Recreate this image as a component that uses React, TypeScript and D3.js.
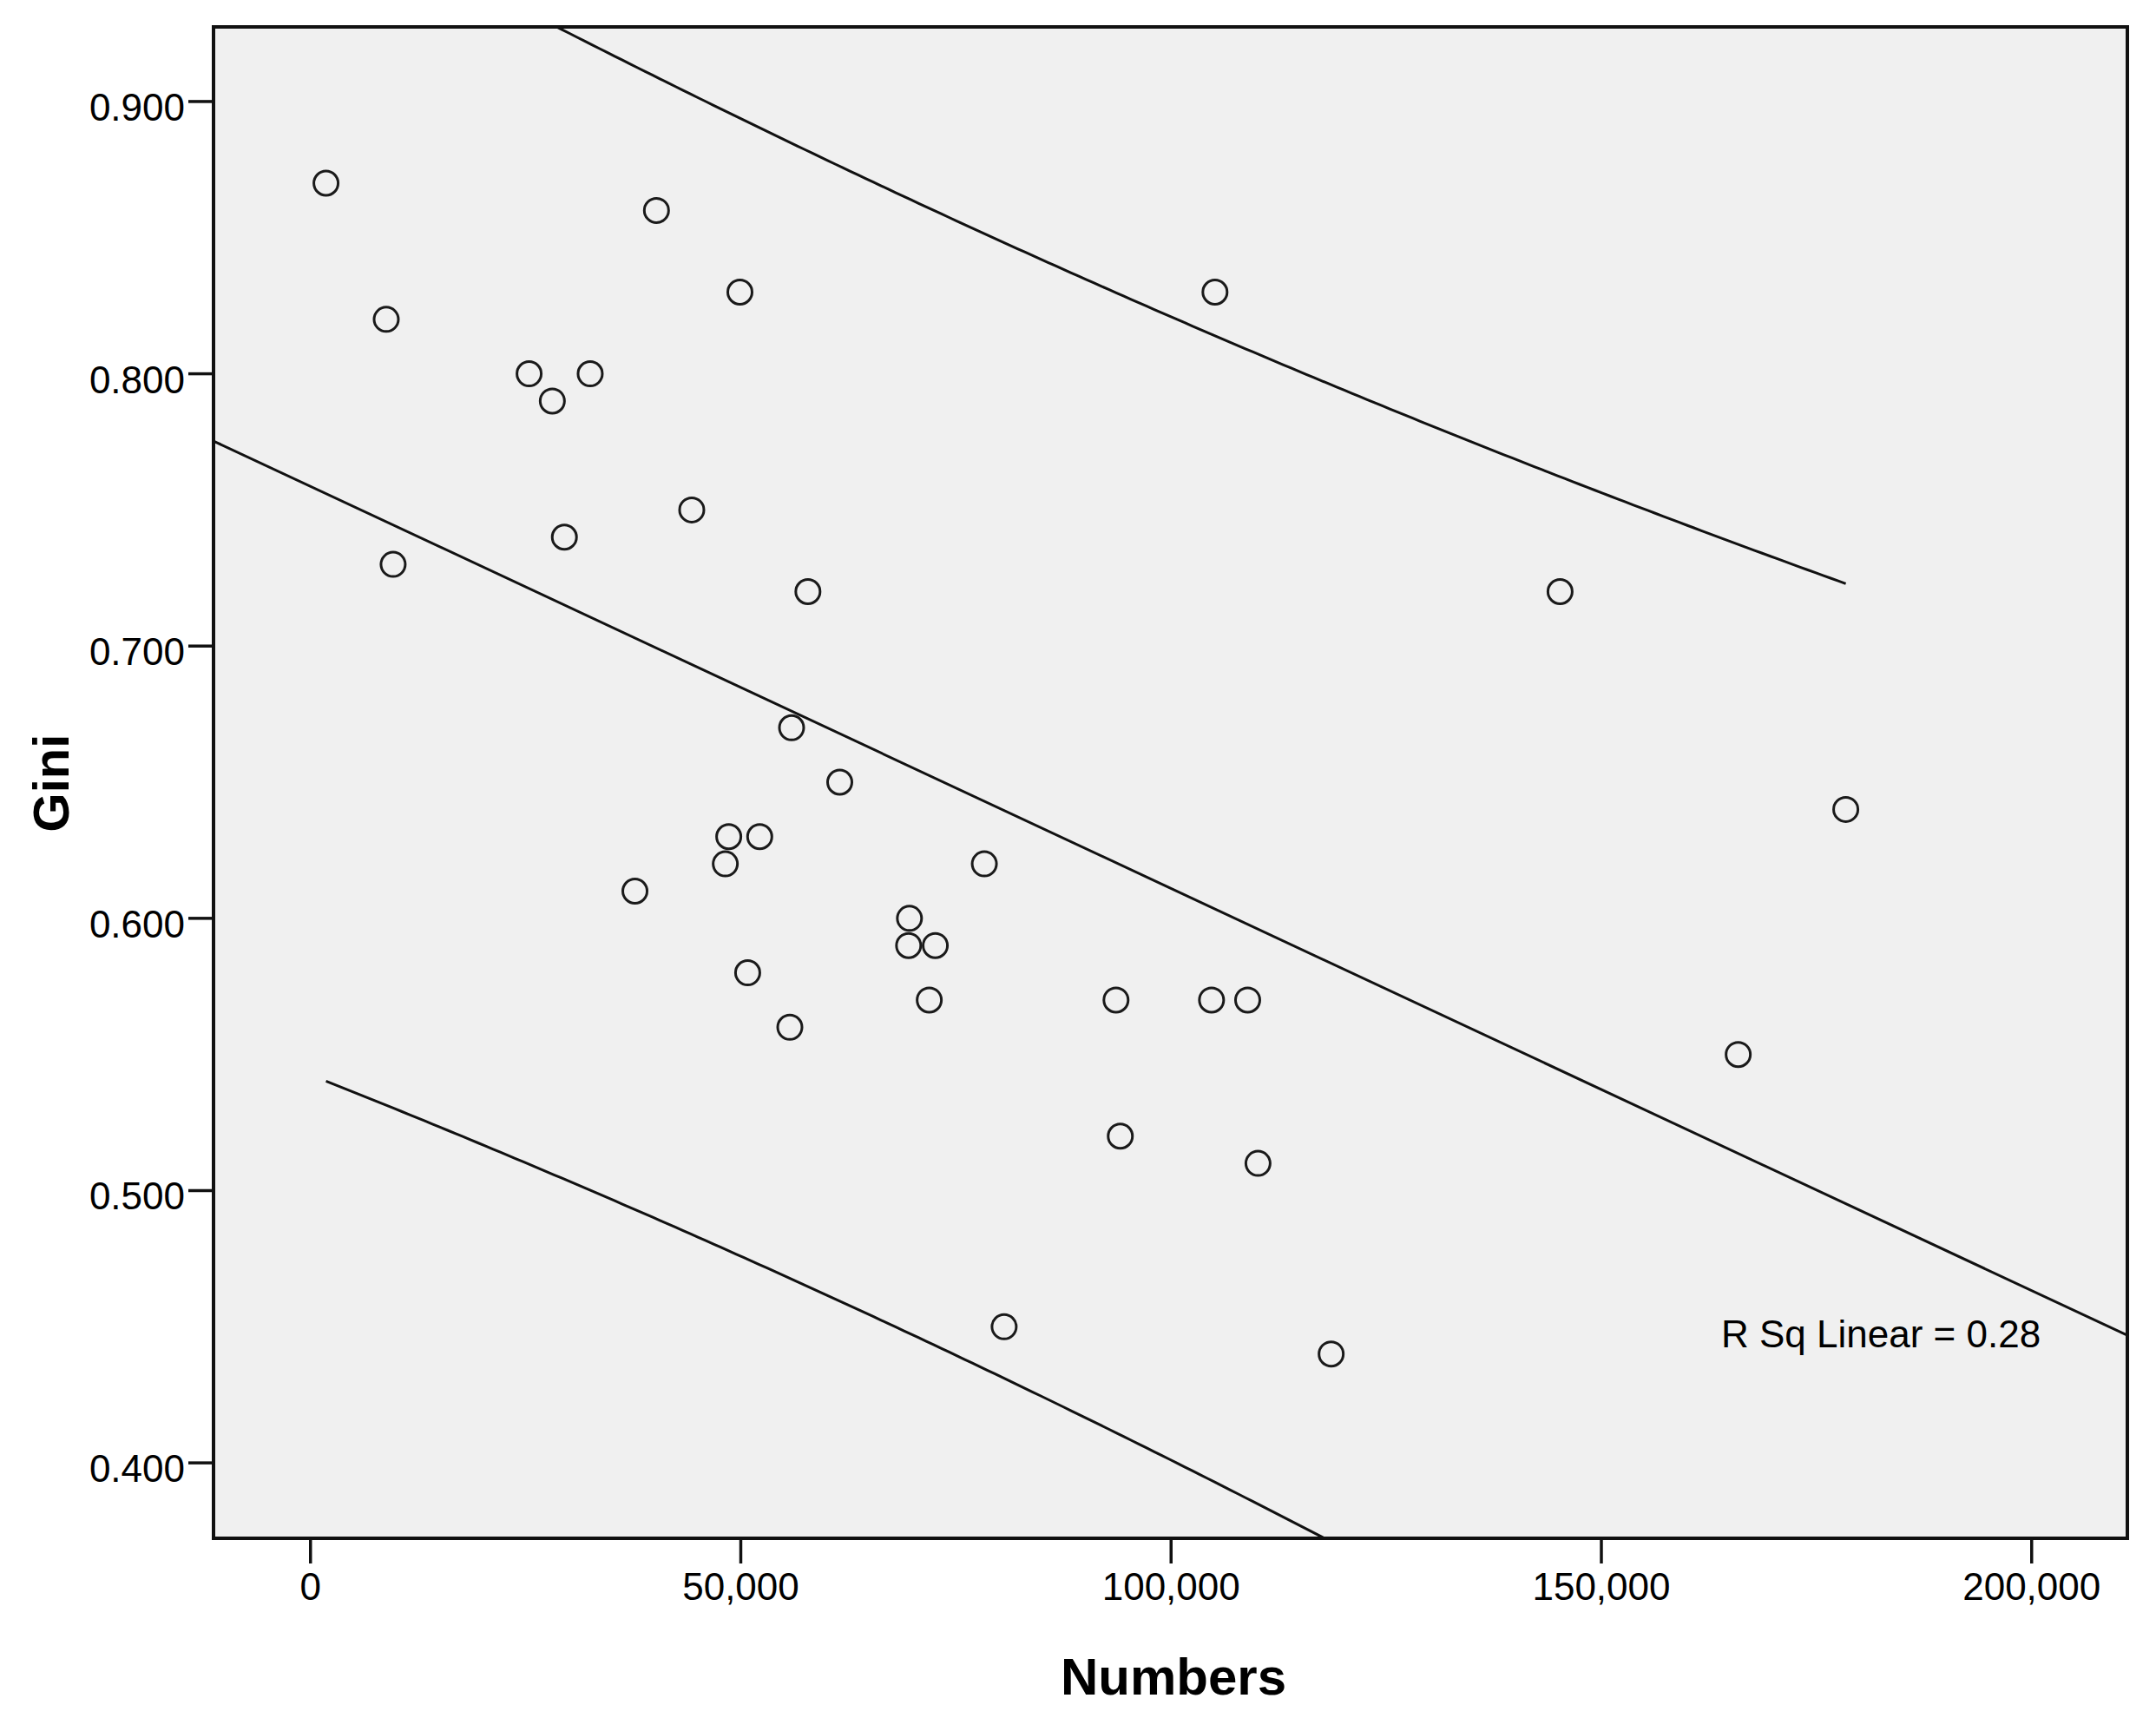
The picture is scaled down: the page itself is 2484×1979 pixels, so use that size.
import React, { useRef, useEffect } from "react";
import * as d3 from "d3";

// Numbers (x) and Gini (y)
const numbers = [
  1800, 8800, 9600, 25400, 28100, 32500, 29500, 40200, 44300, 49900, 57800, 55900,
  61500, 37700, 48600, 52200, 48200, 50800, 55700, 69600, 69500, 72600, 71900,
  78300, 80600, 93600, 94100, 105100, 104700, 108900, 110100, 118600, 145200,
  165900, 178400,
];
const gini = [
  0.87, 0.82, 0.73, 0.8, 0.79, 0.8, 0.74, 0.86, 0.75, 0.83, 0.72, 0.67, 0.65, 0.61,
  0.63, 0.63, 0.62, 0.58, 0.56, 0.6, 0.59, 0.59, 0.57, 0.62, 0.45, 0.57, 0.52, 0.83,
  0.57, 0.57, 0.51, 0.44, 0.72, 0.55, 0.64,
];
const xTicks = [0, 50000, 100000, 150000, 200000];
const yTicks = [0.4, 0.5, 0.6, 0.7, 0.8, 0.9];
const xTitle = "Numbers";
const yTitle = "Gini";
const fitLabel = "R Sq Linear = 0.28";

const FONT = "'Liberation Sans', Arial, sans-serif";

const App: React.FC = () => {
  const ref = useRef<SVGSVGElement | null>(null);

  useEffect(() => {
    const svg = d3.select(ref.current);
    svg.selectAll("*").remove();

    const width = 2484;
    const height = 1979;
    const left = 246;
    const right = 2451;
    const top = 31;
    const bottom = 1772;

    svg.attr("width", width).attr("height", height);

    const x = d3.scaleLinear().domain([-11270, 211120]).range([left, right]);
    const y = d3.scaleLinear().domain([0.3723, 0.9274]).range([bottom, top]);

    const pts = numbers.map((n, i) => ({ x: n, y: gini[i] }));

    // least squares fit + 95% prediction interval
    const n = pts.length;
    const mx = d3.mean(pts, (d) => d.x) as number;
    const my = d3.mean(pts, (d) => d.y) as number;
    const sxx = d3.sum(pts, (d) => (d.x - mx) ** 2);
    const sxy = d3.sum(pts, (d) => (d.x - mx) * (d.y - my));
    const b = sxy / sxx;
    const a = my - b * mx;
    const sse = d3.sum(pts, (d) => (d.y - (a + b * d.x)) ** 2);
    const s = Math.sqrt(sse / (n - 2));
    const t = 2.0345; // t(0.975, 33)

    svg
      .append("rect")
      .attr("x", left)
      .attr("y", top)
      .attr("width", right - left)
      .attr("height", bottom - top)
      .attr("fill", "#f0f0f0");

    svg
      .append("clipPath")
      .attr("id", "plot-clip")
      .append("rect")
      .attr("x", left)
      .attr("y", top)
      .attr("width", right - left)
      .attr("height", bottom - top);

    const lines = svg.append("g").attr("clip-path", "url(#plot-clip)");
    const line = d3
      .line<number>()
      .x((d) => x(d))
      .y((d) => y(a + b * d));

    lines
      .append("path")
      .attr("d", line(x.domain()))
      .attr("fill", "none")
      .attr("stroke", "#111")
      .attr("stroke-width", 3);

    const [xMin, xMax] = d3.extent(numbers) as [number, number];
    const grid = d3.range(0, 201).map((i) => xMin + ((xMax - xMin) * i) / 200);
    const half = (v: number) =>
      t * s * Math.sqrt(1 + 1 / n + (v - mx) ** 2 / sxx);

    [1, -1].forEach((sign) => {
      lines
        .append("path")
        .attr(
          "d",
          d3
            .line<number>()
            .x((d) => x(d))
            .y((d) => y(a + b * d + sign * half(d)))(grid)
        )
        .attr("fill", "none")
        .attr("stroke", "#111")
        .attr("stroke-width", 3);
    });

    svg
      .append("g")
      .selectAll("circle")
      .data(pts)
      .enter()
      .append("circle")
      .attr("cx", (d) => x(d.x))
      .attr("cy", (d) => y(d.y))
      .attr("r", 14)
      .attr("fill", "none")
      .attr("stroke", "#1a1a1a")
      .attr("stroke-width", 3);

    svg
      .append("text")
      .attr("x", 1983)
      .attr("y", 1552)
      .attr("font-family", FONT)
      .attr("font-size", 44)
      .attr("fill", "#000")
      .text(fitLabel);

    // frame
    svg
      .append("rect")
      .attr("x", left)
      .attr("y", top)
      .attr("width", right - left)
      .attr("height", bottom - top)
      .attr("fill", "none")
      .attr("stroke", "#111")
      .attr("stroke-width", 4);

    const yAxis = svg.append("g");
    yAxis
      .selectAll("line")
      .data(yTicks)
      .enter()
      .append("line")
      .attr("x1", left - 29)
      .attr("x2", left)
      .attr("y1", (d) => y(d))
      .attr("y2", (d) => y(d))
      .attr("stroke", "#111")
      .attr("stroke-width", 3.5);
    yAxis
      .selectAll("text")
      .data(yTicks)
      .enter()
      .append("text")
      .attr("x", 213)
      .attr("y", (d) => y(d) + 22)
      .attr("text-anchor", "end")
      .attr("font-family", FONT)
      .attr("font-size", 44)
      .text((d) => d3.format(".3f")(d));

    const xAxis = svg.append("g");
    xAxis
      .selectAll("line")
      .data(xTicks)
      .enter()
      .append("line")
      .attr("x1", (d) => x(d))
      .attr("x2", (d) => x(d))
      .attr("y1", bottom)
      .attr("y2", bottom + 29)
      .attr("stroke", "#111")
      .attr("stroke-width", 3.5);
    xAxis
      .selectAll("text")
      .data(xTicks)
      .enter()
      .append("text")
      .attr("x", (d) => x(d))
      .attr("y", 1843)
      .attr("text-anchor", "middle")
      .attr("font-family", FONT)
      .attr("font-size", 44)
      .text((d) => d3.format(",")(d));

    svg
      .append("text")
      .attr("x", 1352)
      .attr("y", 1952)
      .attr("text-anchor", "middle")
      .attr("font-family", FONT)
      .attr("font-weight", "bold")
      .attr("font-size", 60)
      .text(xTitle);

    svg
      .append("text")
      .attr("transform", "translate(79, 902) rotate(-90)")
      .attr("text-anchor", "middle")
      .attr("font-family", FONT)
      .attr("font-weight", "bold")
      .attr("font-size", 58)
      .text(yTitle);
  }, []);

  return (
    <svg
      ref={ref}
      style={{ position: "absolute", left: 0, top: 0, display: "block", background: "#fff" }}
    ></svg>
  );
};

export default App;
